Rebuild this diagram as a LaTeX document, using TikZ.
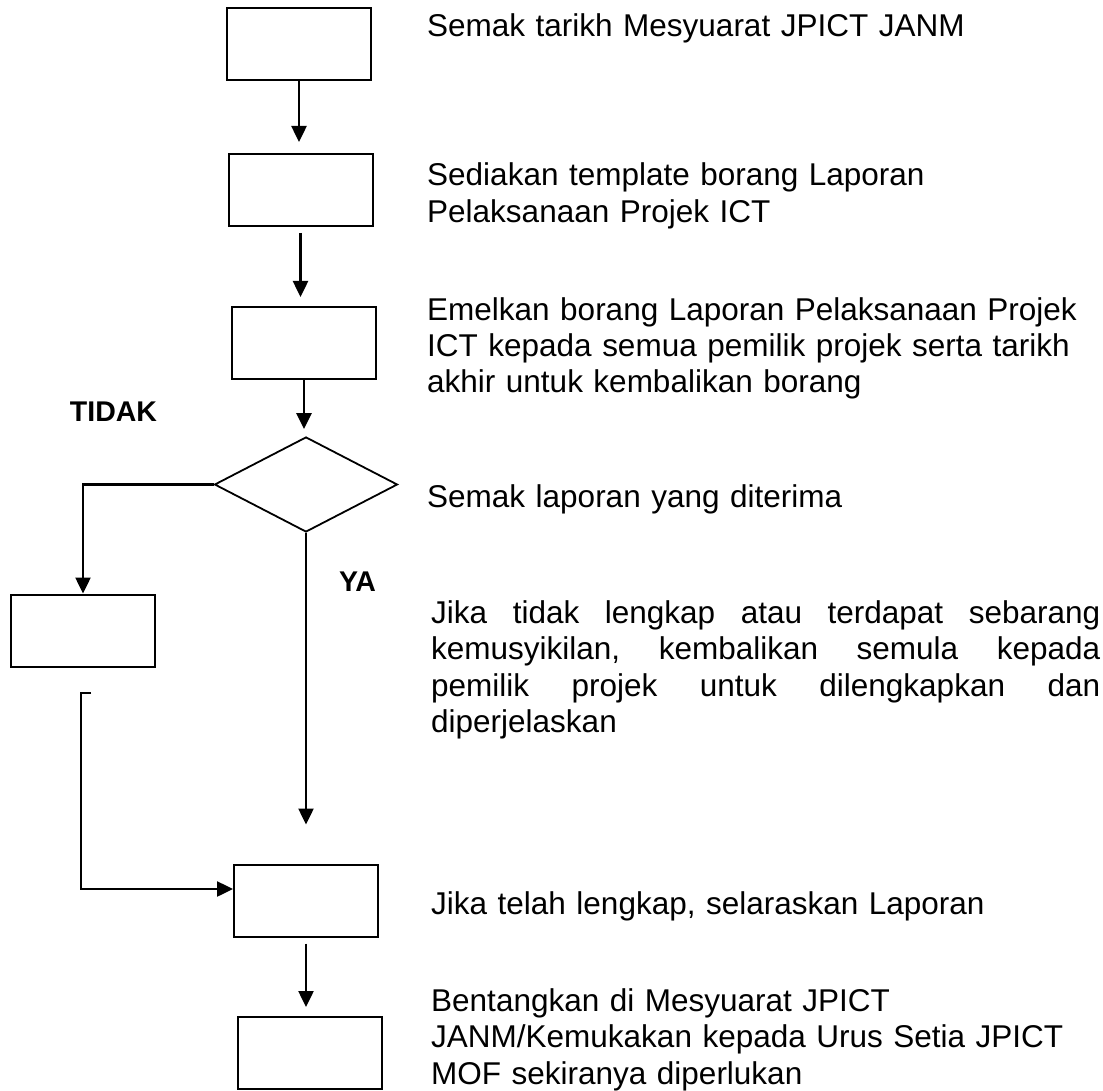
\documentclass[tikz,border=0pt]{standalone}
\usepackage{fontspec}
\setmainfont{Liberation Sans}
\usetikzlibrary{arrows.meta,shapes.geometric}
% one line of a justified paragraph, spread over the full measure
\newcommand{\fullline}[1]{\leavevmode\hbox to 669pt{#1}}
\begin{document}
\begin{tikzpicture}[x=1pt,y=-1pt,
  stepbox/.style={draw,line width=2pt,minimum width=144pt,minimum height=72pt,inner sep=0pt},
  decision/.style={draw,diamond,line width=1.8pt,minimum width=183pt,minimum height=95pt,inner sep=0pt},
  arr/.style={line width=2.5pt,-{Triangle[length=16pt,width=15pt]}},
  desc/.style={anchor=base west,inner sep=0pt,text width=690pt,align=left,
    font=\fontsize{31.5pt}{36.5pt}\selectfont},
  lab/.style={inner sep=0pt,font=\fontsize{28.5pt}{32pt}\selectfont\bfseries}]
\useasboundingbox (0,0) rectangle (1103,1091);
\fill[white] (0,0) rectangle (1103,1091);

% process boxes
\node[stepbox] (b1) at (299,44) {};
\node[stepbox] (b2) at (300.5,190) {};
\node[stepbox] (b3) at (304,343) {};
\node[decision] (dia) at (306,484.5) {};
\node[stepbox] (bL) at (83,630.5) {};
\node[stepbox] (b6) at (306,900.5) {};
\node[stepbox] (b7) at (309.5,1053) {};

% main flow
\draw[arr,shorten >=11pt] (b1.south) -- (b1.south |- b2.north);
\draw[arr,shorten <=6pt,shorten >=9pt] (b2.south) -- (b2.south |- b3.north);
\draw[arr,shorten >=7pt] (b3.south) -- (b3.south |- dia.north);
\draw[arr,shorten >=39pt] (dia.south) -- (dia.south |- b6.north);
\draw[arr,shorten <=6pt,shorten >=9pt] (b6.south) -- (b6.south |- b7.north);

% TIDAK branch and return line
\draw[arr] (dia.west) -| (bL.north);
\coordinate (tick) at (91,693);
\coordinate (bend) at (81,693);
\draw[arr] (tick) -- (bend) |- ([yshift=11.5pt]b6.west);

% branch labels
\node[lab] (tidak) at (113.5,412) {TIDAK};
\node[lab] (ya) at (357.5,582) {YA};

% step descriptions
\node[desc] (t1) at (427,37) {Semak tarikh Mesyuarat JPICT JANM};
\node[desc] (t2) at (427,186) {Sediakan template borang Laporan\\Pelaksanaan Projek ICT};
\node[desc] (t3) at (427,320) {Emelkan borang Laporan Pelaksanaan Projek\\ICT kepada semua pemilik projek serta tarikh\\akhir untuk kembalikan borang};
\node[desc] (t4) at (427,507) {Semak laporan yang diterima};
\node[desc] (t5) at (431,623) {\fullline{Jika\hfill tidak\hfill lengkap\hfill atau\hfill terdapat\hfill sebarang}\\
  \fullline{kemusyikilan,\hfill kembalikan\hfill semula\hfill kepada}\\
  \fullline{pemilik\hfill projek\hfill untuk\hfill dilengkapkan\hfill dan}\\
  diperjelaskan};
\node[desc] (t6) at (431,914) {Jika telah lengkap, selaraskan Laporan};
\node[desc] (t7) at (431,1011) {Bentangkan di Mesyuarat JPICT\\JANM/Kemukakan kepada Urus Setia JPICT\\MOF sekiranya diperlukan};
\end{tikzpicture}
\end{document}
